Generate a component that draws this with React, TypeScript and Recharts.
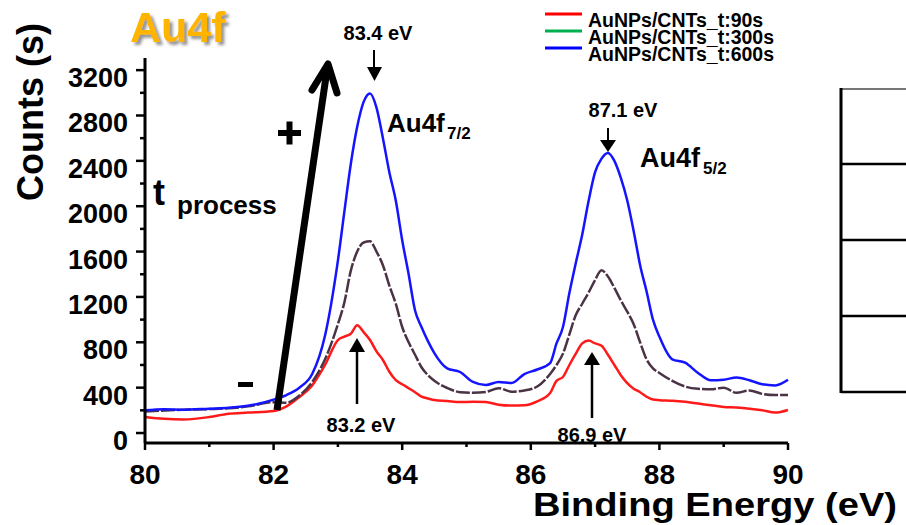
import React from 'react'
import { LineChart, Line, XAxis, YAxis } from 'recharts'

const FONT = '"Liberation Sans", Arial, sans-serif'

const energy = [
  80, 80.3, 80.6, 81, 81.3, 81.6, 82, 82.2, 82.4, 82.6, 82.8, 83.0, 83.1, 83.2, 83.3, 83.4,
  83.5, 83.6, 83.7, 83.8, 83.9, 84.0, 84.1, 84.2, 84.3, 84.4, 84.5, 84.7, 84.9, 85.1, 85.3,
  85.5, 85.7, 85.9, 86.1, 86.3, 86.4, 86.5, 86.6, 86.7, 86.8, 86.9, 87.0, 87.1, 87.2, 87.3,
  87.4, 87.5, 87.6, 87.7, 87.8, 87.9, 88.0, 88.2, 88.4, 88.6, 88.8, 89.0, 89.2, 89.4, 89.6,
  89.8, 90,
]

const counts600 = [
  200, 210, 205, 215, 222, 240, 295, 335, 400, 520, 860, 1520, 1950, 2370, 2700, 2920,
  2995, 2870, 2600, 2300, 2050, 1700, 1400, 1080, 935, 810, 705, 570, 538, 450, 423,
  450, 441, 520, 560, 617, 790, 935, 1235, 1500, 1750, 2050, 2300, 2420, 2470, 2400,
  2250, 2050, 1780, 1480, 1250, 1000, 850, 650, 620, 530, 465, 470, 490, 465, 430,
  420, 470,
]

const counts300 = [
  190, 198, 205, 211, 218, 235, 272, 268, 330, 450, 650, 960, 1150, 1430, 1600, 1680,
  1690, 1600, 1480, 1300, 1140, 935, 800, 690, 580, 510, 460, 397, 360, 355, 362,
  395, 365, 375, 410, 520, 600, 700, 870, 1040, 1140, 1240, 1350, 1435, 1380, 1280,
  1170, 1070, 960, 800, 650, 570, 530, 460, 410, 390, 385, 400, 355, 375, 345,
  335, 335,
]

const counts90 = [
  141, 125, 120, 141, 170, 180, 194, 235, 317, 420, 600, 820, 850, 875, 950, 890,
  820, 720, 644, 540, 467, 430, 395, 360, 320, 305, 291, 282, 273, 275, 273,
  250, 242, 245, 280, 353, 460, 494, 600, 700, 790, 815, 790, 770, 690, 600,
  510, 440, 390, 360, 320, 295, 290, 285, 275, 260, 245, 230, 225, 215, 200,
  180, 203,
]

const xTicks = [80, 81, 82, 83, 84, 85, 86, 87, 88, 89, 90]
const yTicks = [0, 200, 400, 600, 800, 1000, 1200, 1400, 1600, 1800, 2000, 2200, 2400, 2600, 2800, 3000, 3200]

const legendItems = [
  { label: 'AuNPs/CNTs_t:90s', color: '#ff0000' },
  { label: 'AuNPs/CNTs_t:300s', color: '#00b050' },
  { label: 'AuNPs/CNTs_t:600s', color: '#0000ff' },
]

const data = energy.map((e, i) => ({
  e,
  t90: counts90[i],
  t300: counts300[i],
  t600: counts600[i],
}))

function YTick(props: any) {
  const { x, y, payload } = props
  const major = payload.value % 400 === 0
  return (
    <g>
      <line x1={x - (major ? 9 : 5)} x2={x} y1={y} y2={y} stroke="#000" strokeWidth={2.5} />
      {major && (
        <text x={x - 17} y={y + 17} textAnchor="end" fontFamily={FONT} fontWeight="bold" fontSize={27} fill="#000">
          {payload.value}
        </text>
      )}
    </g>
  )
}

function XTick(props: any) {
  const { x, y, payload } = props
  const major = payload.value % 2 === 0
  return (
    <g>
      <line x1={x} x2={x} y1={y} y2={y + (major ? 7 : 4)} stroke="#000" strokeWidth={2.5} />
      {major && (
        <text x={x} y={y + 41} textAnchor="middle" fontFamily={FONT} fontWeight="bold" fontSize={28} fill="#000">
          {payload.value}
        </text>
      )}
    </g>
  )
}

function Overlay() {
  const txt = { fontFamily: FONT, fontWeight: 'bold' as const, fill: '#000' }
  return (
    <svg width={906} height={525} style={{ position: 'absolute', left: 0, top: 0, pointerEvents: 'none' }}>
      <defs>
        <filter id="shadow" x="-20%" y="-20%" width="140%" height="160%">
          <feDropShadow dx={3} dy={3} stdDeviation={1.5} floodColor="#777" floodOpacity={0.8} />
        </filter>
      </defs>

      {/* title */}
      <text x={130} y={42} fontFamily={FONT} fontWeight="bold" fontSize={43} fill="#ffb400" filter="url(#shadow)">
        Au4f
      </text>

      {/* axis titles */}
      <text transform="translate(43,112) rotate(-90)" textAnchor="middle" fontSize={36} {...txt}>
        Counts (s)
      </text>
      <text x={533} y={516} fontSize={33} textLength={364} lengthAdjust="spacingAndGlyphs" {...txt}>
        Binding Energy (eV)
      </text>

      {/* legend */}
      {legendItems.map((it, i) => (
        <g key={it.label}>
          <line x1={545} x2={582} y1={14 + i * 17} y2={14 + i * 17} stroke={it.color} strokeWidth={3} />
          <text x={588} y={27 + i * 17} fontSize={19.5} {...txt}>
            {it.label}
          </text>
        </g>
      ))}

      {/* t process arrow */}
      <line x1={277} y1={410} x2={327} y2={70} stroke="#000" strokeWidth={7} />
      <polyline points="312,90 328,64 337,93" fill="none" stroke="#000" strokeWidth={7} strokeLinejoin="round" strokeLinecap="round" />
      <rect x={278} y={130} width={23} height={6} fill="#000" />
      <rect x={286.5} y={121.5} width={6} height={23} fill="#000" />
      <rect x={238} y={382} width={15} height={5} fill="#000" />
      <text x={153} y={205} fontSize={36} {...txt}>t</text>
      <text x={177} y={214} fontSize={26} {...txt}>process</text>

      {/* peak labels */}
      <text x={378} y={40} textAnchor="middle" fontSize={20} {...txt}>83.4 eV</text>
      <line x1={374} y1={50} x2={374} y2={68} stroke="#000" strokeWidth={2} />
      <polygon points="367,67 382,67 374.5,81" fill="#000" />
      <text x={387} y={132} fontSize={26} {...txt}>Au4f</text>
      <text x={447} y={139} fontSize={17} {...txt}>7/2</text>

      <text x={623} y={117} textAnchor="middle" fontSize={20} {...txt}>87.1 eV</text>
      <line x1={608} y1={128} x2={608} y2={141} stroke="#000" strokeWidth={2} />
      <polygon points="600,140 616,140 608,152" fill="#000" />
      <text x={640} y={167} fontSize={27} {...txt}>Au4f</text>
      <text x={703} y={174} fontSize={17} {...txt}>5/2</text>

      <text x={361} y={432} textAnchor="middle" fontSize={20} {...txt}>83.2 eV</text>
      <line x1={357} y1={350} x2={357} y2={404} stroke="#000" strokeWidth={2.5} />
      <polygon points="349,352 365,352 357,338" fill="#000" />

      <text x={592} y={442} textAnchor="middle" fontSize={20} {...txt}>86.9 eV</text>
      <line x1={592} y1={363} x2={592} y2={418} stroke="#000" strokeWidth={2.5} />
      <polygon points="584,365 600,365 592,352" fill="#000" />

      {/* table fragment on the right */}
      <line x1={841} x2={906} y1={89} y2={89} stroke="#777" strokeWidth={2} />
      {[164, 240, 316, 392].map((y) => (
        <line key={y} x1={841} x2={906} y1={y} y2={y} stroke="#000" strokeWidth={2.5} />
      ))}
      <line x1={841} x2={841} y1={88} y2={393} stroke="#000" strokeWidth={3} />
    </svg>
  )
}

export default function App() {
  return (
    <div style={{ position: 'absolute', left: 0, top: 0, width: 906, height: 525, background: '#fff' }}>
      <LineChart width={906} height={525} data={data} margin={{ top: 58, right: 118, bottom: 0, left: 0 }}>
        <XAxis
          xAxisId="b"
          dataKey="e"
          type="number"
          domain={[80, 90]}
          ticks={xTicks}
          interval={0}
          height={82}
          tickSize={0}
          tickMargin={0}
          tickLine={false}
          tick={XTick}
          axisLine={{ stroke: '#000', strokeWidth: 3 }}
        />
        <XAxis
          xAxisId="t"
          dataKey="e"
          type="number"
          orientation="top"
          domain={[80, 90]}
          height={0}
          tick={false}
          tickLine={false}
          axisLine={{ stroke: '#000', strokeWidth: 2.5 }}
        />
        <YAxis
          yAxisId="l"
          type="number"
          domain={[-88, 3307]}
          ticks={yTicks}
          interval={0}
          width={145}
          tickSize={0}
          tickMargin={0}
          tickLine={false}
          tick={YTick}
          axisLine={{ stroke: '#000', strokeWidth: 3 }}
        />
        <YAxis
          yAxisId="r"
          type="number"
          orientation="right"
          domain={[-88, 3307]}
          width={0}
          tick={false}
          tickLine={false}
          axisLine={{ stroke: '#000', strokeWidth: 2.5 }}
        />
        <Line xAxisId="b" yAxisId="l" type="monotone" dataKey="t90" stroke="#ff1a1a" strokeWidth={2.5} dot={false} isAnimationActive={false} />
        <Line xAxisId="b" yAxisId="l" type="monotone" dataKey="t300" stroke="#4b3346" strokeWidth={2.5} strokeDasharray="14 2" dot={false} isAnimationActive={false} />
        <Line xAxisId="b" yAxisId="l" type="monotone" dataKey="t600" stroke="#1414ff" strokeWidth={2.5} dot={false} isAnimationActive={false} />
      </LineChart>
      <Overlay />
    </div>
  )
}
